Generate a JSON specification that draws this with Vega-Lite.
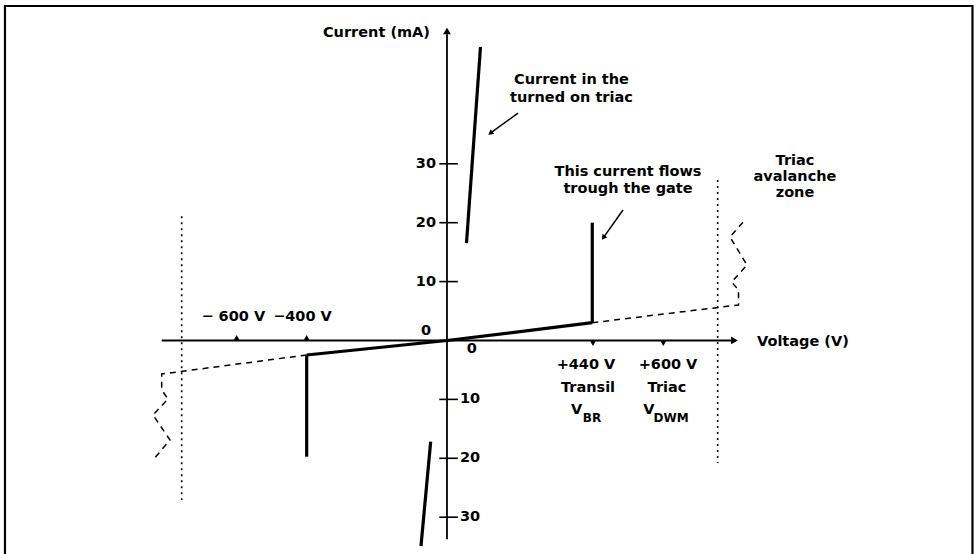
{
  "$schema": "https://vega.github.io/schema/vega-lite/v6.json",
  "width": 977,
  "height": 554,
  "padding": 0,
  "autosize": {"type": "none"},
  "background": "white",
  "config": {"view": {"stroke": null}, "font": "DejaVu Sans"},
  "datasets": {
    "frame": [
      {"ord": 1, "v": -1262.9, "i": -40},
      {"ord": 2, "v": -1262.9, "i": 56.79},
      {"ord": 3, "v": 1501.4, "i": 56.79},
      {"ord": 4, "v": 1501.4, "i": -40}
    ],
    "axes": [
      {"seg": "h", "ord": 1, "v": -815.1, "i": 0},
      {"seg": "h", "ord": 2, "v": 821, "i": 0},
      {"seg": "v", "ord": 1, "v": 0, "i": -33.75},
      {"seg": "v", "ord": 2, "v": 0, "i": 52}
    ],
    "arrowRight": [{"v": 821.4, "i": 0}],
    "arrowUp": [{"v": 0, "i": 52.55}],
    "yticks": [
      {"v": -22, "v2": 31, "i": 30},
      {"v": -22, "v2": 31, "i": 20},
      {"v": -22, "v2": 31, "i": 10},
      {"v": -22, "v2": 31, "i": -10},
      {"v": -22, "v2": 31, "i": -20},
      {"v": -22, "v2": 31, "i": -30}
    ],
    "markUp": [{"v": -601, "i": 0.45}, {"v": -401, "i": 0.45}],
    "markDown": [{"v": 417, "i": -0.45}, {"v": 618, "i": -0.45}],
    "dotted": [
      {"v": -758, "i": 21.1, "i2": -27.1},
      {"v": 773.4, "i": 27.25, "i2": -20.8}
    ],
    "solid": [
      {"seg": "main", "ord": 1, "v": -400.9, "i": -2.46},
      {"seg": "main", "ord": 2, "v": 0, "i": 0},
      {"seg": "main", "ord": 3, "v": 415.1, "i": 3.02},
      {"seg": "negdrop", "ord": 1, "v": -400.9, "i": -2.46},
      {"seg": "negdrop", "ord": 2, "v": -400.9, "i": -19.73},
      {"seg": "gate", "ord": 1, "v": 415.1, "i": 3.02},
      {"seg": "gate", "ord": 2, "v": 415.1, "i": 20.0},
      {"seg": "triacUp", "ord": 1, "v": 55.7, "i": 16.55},
      {"seg": "triacUp", "ord": 2, "v": 95.7, "i": 49.83},
      {"seg": "triacDown", "ord": 1, "v": -46.6, "i": -17.18},
      {"seg": "triacDown", "ord": 2, "v": -74.3, "i": -34.89}
    ],
    "dashed": [
      {"seg": "right", "ord": 1, "v": 415.1, "i": 3.02},
      {"seg": "right", "ord": 2, "v": 832.9, "i": 6.03},
      {"seg": "right", "ord": 3, "v": 832.9, "i": 8.57},
      {"seg": "right", "ord": 4, "v": 813.4, "i": 9.93},
      {"seg": "right", "ord": 5, "v": 857.1, "i": 12.82},
      {"seg": "right", "ord": 6, "v": 808.6, "i": 17.57},
      {"seg": "right", "ord": 7, "v": 851.4, "i": 20.46},
      {"seg": "left", "ord": 1, "v": -400.9, "i": -2.46},
      {"seg": "left", "ord": 2, "v": -815.1, "i": -5.69},
      {"seg": "left", "ord": 3, "v": -815.1, "i": -8.4},
      {"seg": "left", "ord": 4, "v": -797.1, "i": -9.93},
      {"seg": "left", "ord": 5, "v": -840, "i": -12.65},
      {"seg": "left", "ord": 6, "v": -791.4, "i": -16.89},
      {"seg": "left", "ord": 7, "v": -840, "i": -20.29}
    ],
    "pointers": [
      {"seg": "a1", "ord": 1, "v": 202.9, "i": 38.62},
      {"seg": "a1", "ord": 2, "v": 124, "i": 35.2},
      {"seg": "a2", "ord": 1, "v": 502.9, "i": 22.16},
      {"seg": "a2", "ord": 2, "v": 446.9, "i": 17.47}
    ],
    "head1": [{"v": 124, "i": 35.2}],
    "head2": [{"v": 446.9, "i": 17.47}],
    "textCenter": [
      {"label": "Current in the", "v": 355.7, "i": 44.23},
      {"label": "turned on triac", "v": 355.7, "i": 41.17},
      {"label": "This current flows", "v": 517.1, "i": 28.6},
      {"label": "trough the gate", "v": 517.1, "i": 25.72},
      {"label": "Triac", "v": 994.3, "i": 30.48},
      {"label": "avalanche", "v": 994.3, "i": 27.76},
      {"label": "zone", "v": 994.3, "i": 25.04},
      {"label": "− 600 V", "v": -610.6, "i": 4.04},
      {"label": "−400 V", "v": -412.9, "i": 4.04},
      {"label": "+440 V", "v": 397.1, "i": -4.16},
      {"label": "Transil", "v": 402.9, "i": -8.06},
      {"label": "+600 V", "v": 631.4, "i": -4.16},
      {"label": "Triac", "v": 628.6, "i": -8.06},
      {"label": "V", "v": 370, "i": -11.8},
      {"label": "V", "v": 577, "i": -11.8},
      {"label": "0", "v": -60, "i": 1.61},
      {"label": "0", "v": 70.6, "i": -1.44}
    ],
    "textRight": [
      {"label": "Current (mA)", "v": -48.6, "i": 52.16},
      {"label": "30", "v": -31.4, "i": 30},
      {"label": "20", "v": -31.4, "i": 20},
      {"label": "10", "v": -31.4, "i": 10}
    ],
    "textLeft": [
      {"label": "Voltage (V)", "v": 885.7, "i": -0.2},
      {"label": "10", "v": 37.1, "i": -10},
      {"label": "20", "v": 37.1, "i": -20},
      {"label": "30", "v": 37.1, "i": -30}
    ],
    "textSub": [
      {"label": "BR", "v": 414.3, "i": -13.16},
      {"label": "DWM", "v": 640, "i": -13.16}
    ]
  },
  "encoding": {
    "x": {"field": "v", "type": "quantitative", "scale": {"domain": [-1277.1, 1514.3], "nice": false, "zero": false}, "axis": null},
    "y": {"field": "i", "type": "quantitative", "scale": {"domain": [-36.25, 57.81], "nice": false, "zero": false}, "axis": null}
  },
  "layer": [
    {"data": {"name": "frame"}, "mark": {"type": "line", "stroke": "black", "strokeWidth": 2.2, "clip": false}, "encoding": {"order": {"field": "ord"}}},
    {"data": {"name": "axes"}, "mark": {"type": "line", "stroke": "black", "strokeWidth": 1.8}, "encoding": {"detail": {"field": "seg"}, "order": {"field": "ord"}}},
    {"data": {"name": "arrowRight"}, "mark": {"type": "point", "shape": "triangle-right", "filled": true, "color": "black", "size": 60, "opacity": 1}},
    {"data": {"name": "arrowUp"}, "mark": {"type": "point", "shape": "triangle-up", "filled": true, "color": "black", "size": 60, "opacity": 1}},
    {"data": {"name": "yticks"}, "mark": {"type": "rule", "stroke": "black", "strokeWidth": 1.6}, "encoding": {"x2": {"field": "v2"}}},
    {"data": {"name": "markUp"}, "mark": {"type": "point", "shape": "triangle-up", "filled": true, "color": "black", "size": 40, "opacity": 1}},
    {"data": {"name": "markDown"}, "mark": {"type": "point", "shape": "triangle-down", "filled": true, "color": "black", "size": 40, "opacity": 1}},
    {"data": {"name": "dotted"}, "mark": {"type": "rule", "stroke": "black", "strokeWidth": 1.6, "strokeDash": [2, 4]}, "encoding": {"y2": {"field": "i2"}}},
    {"data": {"name": "dashed"}, "mark": {"type": "line", "stroke": "black", "strokeWidth": 1.5, "strokeDash": [6, 5]}, "encoding": {"detail": {"field": "seg"}, "order": {"field": "ord"}}},
    {"data": {"name": "solid"}, "mark": {"type": "line", "stroke": "black", "strokeWidth": 3.2}, "encoding": {"detail": {"field": "seg"}, "order": {"field": "ord"}}},
    {"data": {"name": "pointers"}, "mark": {"type": "line", "stroke": "black", "strokeWidth": 1.5}, "encoding": {"detail": {"field": "seg"}, "order": {"field": "ord"}}},
    {"data": {"name": "head1"}, "mark": {"type": "point", "shape": "triangle-up", "filled": true, "color": "black", "size": 35, "angle": 233.7, "opacity": 1}},
    {"data": {"name": "head2"}, "mark": {"type": "point", "shape": "triangle-up", "filled": true, "color": "black", "size": 35, "angle": 215.4, "opacity": 1}},
    {"data": {"name": "textCenter"}, "mark": {"type": "text", "font": "DejaVu Sans", "fontWeight": "bold", "fontSize": 14.5, "align": "center", "baseline": "middle", "color": "black"}, "encoding": {"text": {"field": "label"}}},
    {"data": {"name": "textRight"}, "mark": {"type": "text", "font": "DejaVu Sans", "fontWeight": "bold", "fontSize": 14.5, "align": "right", "baseline": "middle", "color": "black"}, "encoding": {"text": {"field": "label"}}},
    {"data": {"name": "textLeft"}, "mark": {"type": "text", "font": "DejaVu Sans", "fontWeight": "bold", "fontSize": 14.5, "align": "left", "baseline": "middle", "color": "black"}, "encoding": {"text": {"field": "label"}}},
    {"data": {"name": "textSub"}, "mark": {"type": "text", "font": "DejaVu Sans", "fontWeight": "bold", "fontSize": 12, "align": "center", "baseline": "middle", "color": "black"}, "encoding": {"text": {"field": "label"}}}
  ]
}
